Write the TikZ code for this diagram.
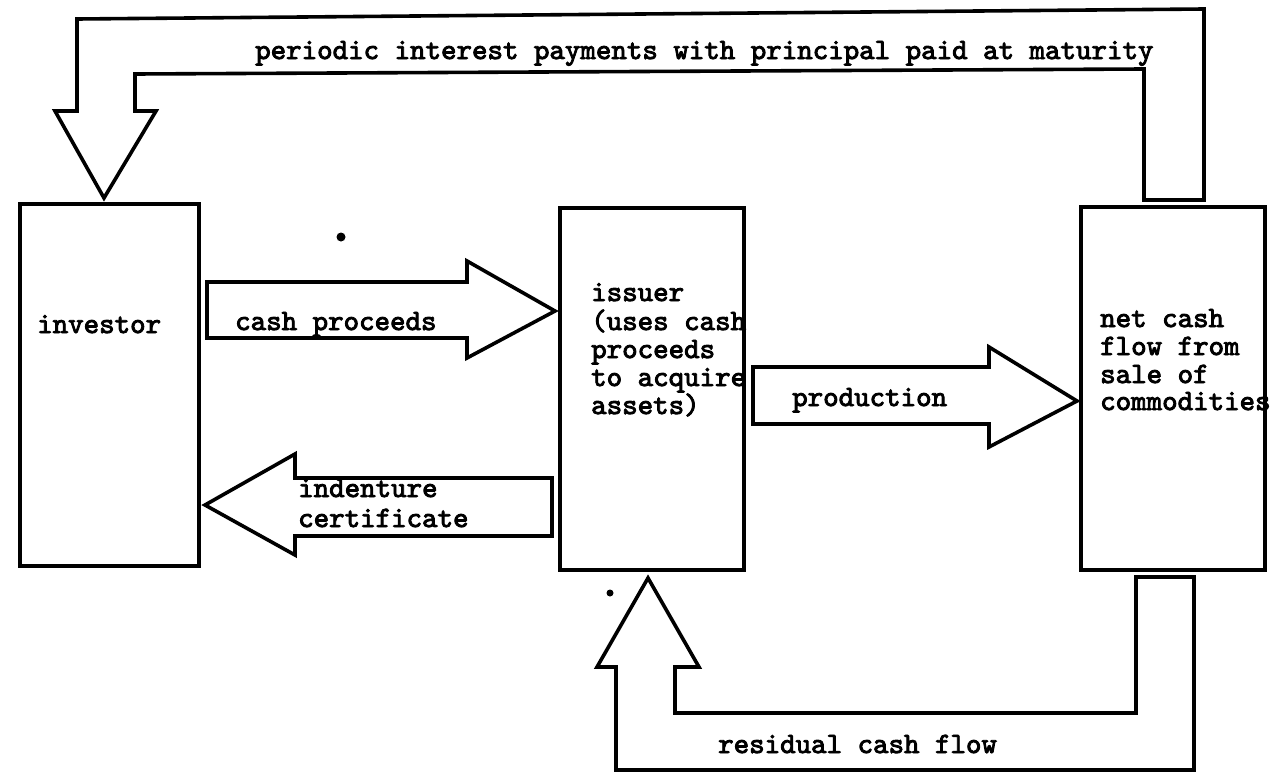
\documentclass[tikz,border=0pt]{standalone}
\usepackage{fontspec}
\newfontfamily\tw{lmmono10-regular.otf}[FakeBold=3]
\tikzset{
  outline/.style={draw=black, line width=3.6pt, line join=miter, fill=white},
  box/.style={outline, rectangle, inner sep=0pt},
  lbl/.style={anchor=base west, inner sep=0pt, font=\tw\fontsize{29.5}{28}\selectfont},
  speck/.style={fill=black, draw=none}
}
\begin{document}
\begin{tikzpicture}[x=1pt, y=-1pt]
  \useasboundingbox (0,0) rectangle (1273,779);

  % the three parties
  \node[box, minimum width=179pt, minimum height=362pt] (inv) at (109.5,385) {};
  \node[box, minimum width=184pt, minimum height=362pt] (iss) at (652,389) {};
  \node[box, minimum width=184pt, minimum height=363pt] (net) at (1173,388.5) {};

  % interest and principal flowing back to the investor
  \draw[outline] (1144,200) -- (1144,69) -- (135,74) -- (135,111) -- (156,111)
    -- (104,198) coordinate (tipA) -- (55,111) -- (77,111) -- (77,19) -- (1204,9)
    -- (1204,200) -- cycle;

  % residual cash returned to the issuer
  \draw[outline] (1136,577) -- (1136,713) -- (675,713) -- (675,667) -- (699,667)
    -- (648,578) coordinate (tipB) -- (597,667) -- (616,667) -- (616,770)
    -- (1194,770) -- (1194,577) -- cycle;

  % cash proceeds: investor to issuer
  \draw[outline] (207,282) -- (467,282) -- (467,261) -- (555,311) coordinate (tipC)
    -- (467,358) -- (467,338) -- (207,338) -- cycle;

  % indenture certificate: issuer to investor
  \draw[outline] (552,478) -- (295,478) -- (295,454) -- (205,505) coordinate (tipD)
    -- (295,555) -- (295,536) -- (552,536) -- cycle;

  % production: issuer to commodity sales
  \draw[outline] (753,367) -- (989,367) -- (989,347) -- (1077,401) coordinate (tipE)
    -- (989,447) -- (989,424) -- (753,424) -- cycle;

  % labels
  \node[lbl] (tInv) at (37,333) {investor};
  \node[lbl] (tIss1) at (591,301) {issuer};
  \node[lbl] (tIss2) at (591,330) {(uses cash};
  \node[lbl] (tIss3) at (591,358) {proceeds};
  \node[lbl] (tIss4) at (591,386) {to acquire};
  \node[lbl] (tIss5) at (591,414) {assets)};
  \node[lbl] (tNet1) at (1100,327) {net cash};
  \node[lbl] (tNet2) at (1100,355) {flow from};
  \node[lbl] (tNet3) at (1100,383) {sale of};
  \node[lbl] (tNet4) at (1100,410) {commodities};
  \node[lbl] (tCash) at (235,330) {cash proceeds};
  \node[lbl] (tInd1) at (298,497) {indenture};
  \node[lbl] (tInd2) at (298,527) {certificate};
  \node[lbl] (tProd) at (792,406) {production};
  \node[lbl] (tTop) at (255,59) {periodic interest payments with principal paid at maturity};
  \node[lbl] (tRes) at (718,753) {residual cash flow};

  % specks on the sheet
  \fill[speck] (341,237) circle (4.5pt);
  \fill[speck] (610,593) circle (3.5pt);
\end{tikzpicture}
\end{document}
